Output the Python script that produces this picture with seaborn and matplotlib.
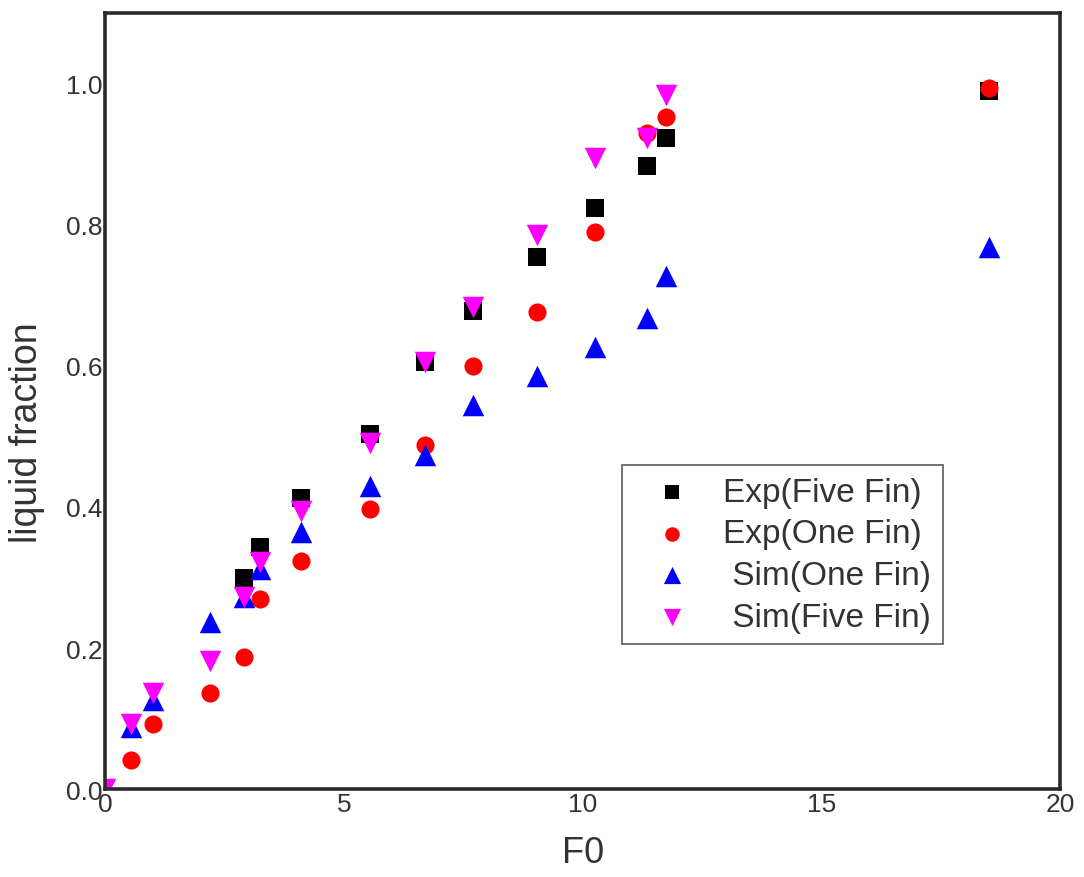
import matplotlib
matplotlib.use("Agg")
import matplotlib.pyplot as plt
import seaborn as sns
import pandas as pd

# Data
f0_exp_five = [2.9, 3.25, 4.1, 5.55, 6.7, 7.7, 9.05, 10.25, 11.35, 11.75, 18.5]
lf_exp_five = [0.300, 0.343, 0.412, 0.504, 0.606, 0.678, 0.754, 0.823, 0.883, 0.923, 0.989]

f0_exp_one = [0.55, 1.0, 2.2, 2.9, 3.25, 4.1, 5.55, 6.7, 7.7, 9.05, 10.25, 11.35, 11.75, 18.5]
lf_exp_one = [0.041, 0.093, 0.136, 0.187, 0.269, 0.324, 0.397, 0.488, 0.600, 0.676, 0.790, 0.930, 0.952, 0.994]

f0_sim_one = [0.0, 0.55, 1.0, 2.2, 2.9, 3.25, 4.1, 5.55, 6.7, 7.7, 9.05, 10.25, 11.35, 11.75, 18.5]
lf_sim_one = [0.0, 0.088, 0.127, 0.237, 0.272, 0.312, 0.364, 0.430, 0.474, 0.545, 0.585, 0.626, 0.668, 0.727, 0.769]

f0_sim_five = [0.0, 0.55, 1.0, 2.2, 2.9, 3.25, 4.1, 5.55, 6.7, 7.7, 9.05, 10.25, 11.35, 11.75]
lf_sim_five = [0.0, 0.092, 0.137, 0.181, 0.273, 0.322, 0.394, 0.490, 0.606, 0.683, 0.786, 0.895, 0.923, 0.984]

series_names = ["Exp(Five Fin)", "Exp(One Fin)", " Sim(One Fin)", " Sim(Five Fin)"]
series_x = [f0_exp_five, f0_exp_one, f0_sim_one, f0_sim_five]
series_y = [lf_exp_five, lf_exp_one, lf_sim_one, lf_sim_five]
series_colors = ["#000000", "#ff0000", "#0000ff", "#ff00ff"]
series_markers = ["s", "o", "^", "v"]
series_sizes = [150, 170, 240, 240]

x_ticks = [0, 5, 10, 15, 20]
y_ticks = [0.0, 0.2, 0.4, 0.6, 0.8, 1.0]

sns.set_style("white")
plt.rcParams["font.family"] = ["Liberation Sans", "DejaVu Sans"]

fig = plt.figure(figsize=(10.84, 8.78), dpi=100)
ax = fig.add_axes([0.097, 0.100, 0.881, 0.884])

for name, xs, ys, c, m, s in zip(series_names, series_x, series_y,
                                 series_colors, series_markers, series_sizes):
    df = pd.DataFrame({"F0": xs, "liquid fraction": ys})
    sns.scatterplot(data=df, x="F0", y="liquid fraction", ax=ax, color=c,
                    marker=m, s=s, linewidth=0, label=name)

ax.set_xlim(0, 20)
ax.set_ylim(0, 1.1)
ax.set_xticks(x_ticks)
ax.set_xticklabels([str(t) for t in x_ticks])
ax.set_yticks(y_ticks)
ax.set_yticklabels([f"{t:.1f}" for t in y_ticks])
ax.tick_params(axis="both", length=0, labelsize=19, colors="#333333", pad=2)

for sp in ax.spines.values():
    sp.set_color("#2a2a2a")
    sp.set_linewidth(2.6)

ax.set_xlabel("F0", fontsize=26, color="#333333", labelpad=14)
ax.set_ylabel("liquid fraction", fontsize=27, color="#333333", labelpad=10)
ax.yaxis.set_label_coords(-0.063, 0.461)

leg = ax.legend(loc="upper left", bbox_to_anchor=(0.541, 0.4175), fontsize=24,
                frameon=True, fancybox=False, edgecolor="#333333",
                handletextpad=0.4, borderpad=0.35, labelspacing=0.32,
                borderaxespad=0, markerscale=0.8, handlelength=2.3)
leg.get_frame().set_linewidth(1.2)
for t in leg.get_texts():
    t.set_color("#333333")

fig.savefig("out.png", dpi=100)
